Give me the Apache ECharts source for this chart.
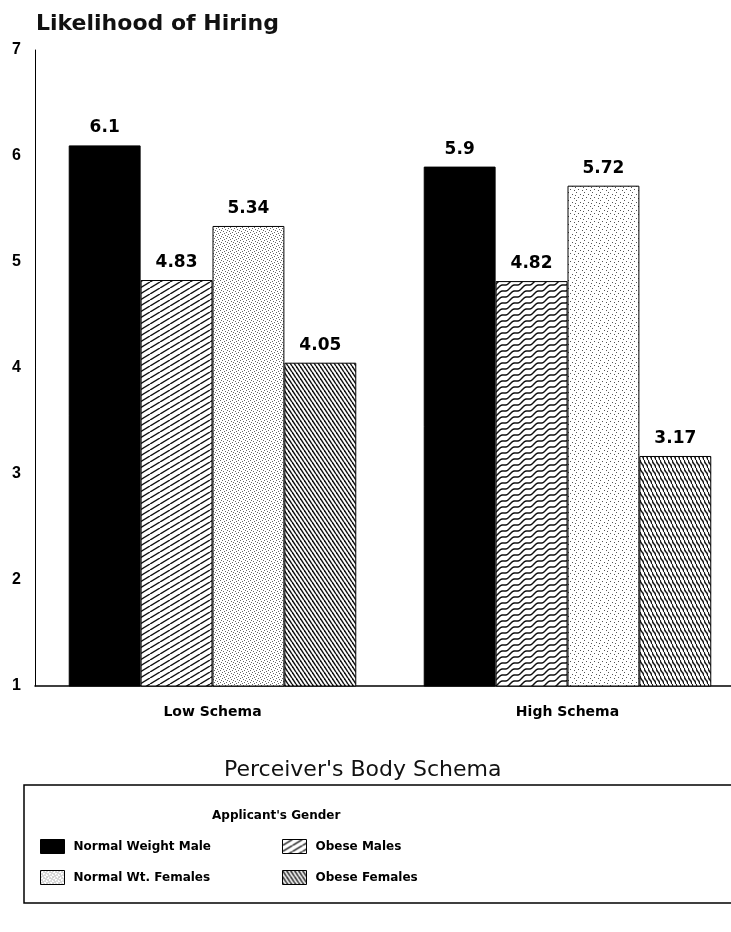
<!DOCTYPE html>
<html>
  <head>
    <title></title>
    <meta charset="UTF-8" />
    <script src="https://cdn.jsdelivr.net/npm/echarts@6/dist/echarts.min.js"></script>
    <style>
      body { margin: 0; background: #fff; }
    </style>
  </head>
  <body>
    <div id="main"></div>
    <script>
      const width = 731;
      const height = 932;
      const main = document.getElementById('main');
      main.style.width = `${width}px`;
      main.style.height = `${height}px`;

      const categories = ['Low Schema', 'High Schema'];
      const seriesNames = ['Normal Weight Male', 'Obese Males', 'Normal Wt. Females', 'Obese Females'];
      const normalMale = [6.1, 5.9];
      const obeseMale = [4.83, 4.82];
      const normalFemale = [5.34, 5.72];
      const obeseFemale = [4.05, 3.17];
      const yTicks = [1, 2, 3, 4, 5, 6, 7];

      // canvas textures for the old-style hatched bars
      function makePattern(w, h, draw) {
        const c = document.createElement('canvas');
        c.width = w;
        c.height = h;
        const ctx = c.getContext('2d');
        ctx.fillStyle = '#fff';
        ctx.fillRect(0, 0, w, h);
        ctx.strokeStyle = '#111';
        ctx.fillStyle = '#111';
        draw(ctx, w, h);
        return { image: c, repeat: 'repeat' };
      }

      function slashes(w, h, lw, up) {
        return makePattern(w, h, (ctx) => {
          ctx.lineWidth = lw;
          for (let k = -1; k <= 1; k++) {
            ctx.beginPath();
            if (up) {
              ctx.moveTo(k * w, h);
              ctx.lineTo(k * w + w, 0);
            } else {
              ctx.moveTo(k * w, 0);
              ctx.lineTo(k * w + w, h);
            }
            ctx.stroke();
          }
        });
      }

      function waves(w, h, lw, amp, up) {
        return makePattern(w, h, (ctx) => {
          ctx.lineWidth = lw;
          for (let k = -3; k <= 3; k++) {
            ctx.beginPath();
            for (let x = 0; x <= w; x += 0.5) {
              const drift = up ? -x * h / w : x * h / w;
              const y = h / 2 + k * h + drift + amp * Math.sin((2 * Math.PI * x) / w);
              if (x === 0) ctx.moveTo(x, y);
              else ctx.lineTo(x, y);
            }
            ctx.stroke();
          }
        });
      }

      const dots = makePattern(6, 6, (ctx) => {
        ctx.fillStyle = '#666';
        const pts = [[0, 0], [3, 1], [1, 3], [4, 4], [2, 5], [5, 2]];
        pts.forEach(([x, y]) => ctx.fillRect(x, y, 1, 1));
      });
      const sparseDots = makePattern(8, 8, (ctx) => {
        ctx.fillStyle = '#555';
        const pts = [[0, 0], [4, 2], [2, 5], [6, 6], [7, 3]];
        pts.forEach(([x, y]) => ctx.fillRect(x, y, 1, 1));
      });

      const black = '#000';
      const maleLow = slashes(10, 6, 1.4, true);
      const maleHigh = waves(12, 6, 1.5, 1.1, true);
      const femaleLow = slashes(4, 6, 1.5, false);
      const femaleHigh = waves(4, 8, 1.5, 0.7, false);

      function items(values, fills) {
        return values.map((v, i) => ({ value: v, itemStyle: { color: fills[i] } }));
      }

      const labelStyle = {
        show: true,
        position: 'top',
        distance: 9,
        color: '#000',
        fontFamily: 'DejaVu Sans',
        fontWeight: 'bold',
        fontSize: 17,
      };

      const barBase = {
        type: 'bar',
        barGap: 0,
        barCategoryGap: '19%',
        label: labelStyle,
      };

      const legendText = { fontFamily: 'DejaVu Sans', fontWeight: 'bold', fontSize: 12, color: '#000', padding: [0, 0, 0, 4] };

      const myChart = echarts.init(main);
      const option = {
        animation: false,
        title: {
          text: 'Likelihood of Hiring',
          left: 31,
          top: 8,
          textStyle: { fontFamily: 'DejaVu Sans', fontSize: 22, fontWeight: 'bold', color: '#111' },
        },
        grid: { left: 35, top: 50, width: 710, height: 636, outerBoundsMode: 'none' },
        xAxis: {
          type: 'category',
          data: categories,
          axisLine: { lineStyle: { color: '#000', width: 1.5 } },
          axisTick: { show: false },
          axisLabel: {
            margin: 19,
            color: '#000',
            fontFamily: 'DejaVu Sans',
            fontWeight: 'bold',
            fontSize: 14,
          },
        },
        yAxis: {
          type: 'value',
          min: yTicks[0],
          max: yTicks[yTicks.length - 1],
          interval: 1,
          axisLine: { show: true, lineStyle: { color: '#000', width: 1 } },
          axisTick: { show: false },
          splitLine: { show: false },
          axisLabel: {
            margin: 14,
            color: '#000',
            fontFamily: 'Liberation Sans',
            fontWeight: 'bold',
            fontSize: 16,
          },
        },
        legend: [
          {
            data: [seriesNames[0], seriesNames[2]],
            orient: 'vertical',
            left: 35,
            top: 834,
            itemWidth: 24,
            itemHeight: 14,
            itemGap: 16,
            icon: 'rect',
            itemStyle: { borderColor: '#000', borderWidth: 1 },
            textStyle: legendText,
          },
          {
            data: [seriesNames[1], seriesNames[3]],
            orient: 'vertical',
            left: 277,
            top: 834,
            itemWidth: 24,
            itemHeight: 14,
            itemGap: 16,
            icon: 'rect',
            itemStyle: { borderColor: '#000', borderWidth: 1 },
            textStyle: legendText,
          },
        ],
        graphic: [
          {
            type: 'text',
            left: 224,
            top: 759,
            style: { text: "Perceiver's Body Schema", font: '22px "DejaVu Sans"', fill: '#111' },
          },
          {
            type: 'rect',
            shape: { x: 24, y: 785, width: 720, height: 118 },
            style: { fill: 'none', stroke: '#000', lineWidth: 1.5 },
          },
          {
            type: 'text',
            x: 212,
            y: 810,
            style: { text: "Applicant's Gender", font: 'bold 12px "DejaVu Sans"', fill: '#000' },
          },
        ],
        series: [
          {
            ...barBase,
            name: seriesNames[0],
            itemStyle: { color: black, borderColor: '#000', borderWidth: 1 },
            data: normalMale,
          },
          {
            ...barBase,
            name: seriesNames[1],
            itemStyle: { color: maleLow, borderColor: '#000', borderWidth: 1 },
            data: items(obeseMale, [maleLow, maleHigh]),
          },
          {
            ...barBase,
            name: seriesNames[2],
            itemStyle: { color: dots, borderColor: '#000', borderWidth: 1 },
            data: items(normalFemale, [dots, sparseDots]),
          },
          {
            ...barBase,
            name: seriesNames[3],
            itemStyle: { color: femaleLow, borderColor: '#000', borderWidth: 1 },
            data: items(obeseFemale, [femaleLow, femaleHigh]),
          },
        ],
      };
      myChart.setOption(option);
    </script>
  </body>
</html>
